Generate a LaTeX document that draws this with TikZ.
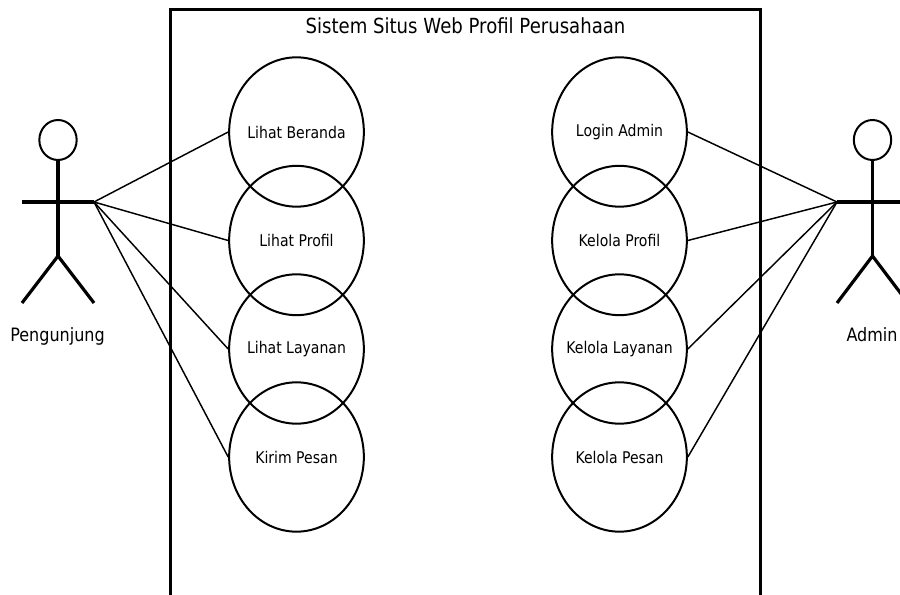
\documentclass[tikz,border=0pt]{standalone}
\usepackage{fontspec}
\setmainfont{DejaVu Sans}
\usetikzlibrary{shapes.geometric}
\newcommand{\ucname}[1]{\makebox[0pt][c]{#1}}
\tikzset{
 usecase/.style={draw=black,line width=1.5pt,ellipse,minimum width=101pt,minimum height=112pt,inner sep=0pt,font=\fontsize{12.1}{14}\selectfont\addfontfeature{FakeStretch=0.87}},
 limb/.style={draw=black,line width=2.4pt},
 conn/.style={draw=black,line width=1.1pt},
 lbl/.style={font=\fontsize{13.8}{16}\selectfont\addfontfeature{FakeStretch=0.87},inner sep=0pt,text=black},
 heading/.style={font=\fontsize{15.6}{18}\selectfont\addfontfeature{FakeStretch=0.87},inner sep=0pt,text=black},
 headcircle/.style={draw=black,line width=1.5pt,ellipse,minimum width=28pt,minimum height=30pt,inner sep=0pt}
}
\begin{document}
\begin{tikzpicture}[x=0.75pt,y=-0.75pt]
\useasboundingbox (0,0) rectangle (900,595);
\fill[white] (0,0) rectangle (900,595);
\draw[line width=1.6pt] (170.5,600) -- (170.5,9.5) -- (760.5,9.5) -- (760.5,600);
\node[heading] (title) at (465.5,25.5) {Sistem Situs Web Profil Perusahaan};
\node[usecase] (u1) at (296.5,132) {\ucname{Lihat Beranda}};
\node[usecase] (u2) at (296.5,240.5) {\ucname{Lihat Profil}};
\node[usecase] (u3) at (296.5,349) {\ucname{Lihat Layanan}};
\node[usecase] (u4) at (296.5,457) {\ucname{Kirim Pesan}};
\node[usecase] (a1) at (619.5,132) {\ucname{Login Admin}};
\node[usecase] (a2) at (619.5,240.5) {\ucname{Kelola Profil}};
\node[usecase] (a3) at (619.5,349) {\ucname{Kelola Layanan}};
\node[usecase] (a4) at (619.5,457) {\ucname{Kelola Pesan}};
% actors
\coordinate (pHand) at (94,202);
\coordinate (aHand) at (837,202);
\node[headcircle] (pHead) at (58,140) {};
\node[headcircle] (aHead) at (872.5,140) {};
\coordinate (pHip) at (58,256);
\coordinate (aHip) at (872.5,256);
\coordinate (pArmL) at (22,202);
\coordinate (aArmR) at (908,202);
\coordinate (pFootL) at (22,303);
\coordinate (pFootR) at (94,303);
\coordinate (aFootL) at (837,303);
\coordinate (aFootR) at (908,303);
\draw[limb] (pHead) -- (pHip);
\draw[limb] (pArmL) -- (pHand);
\draw[limb] (pFootL) -- (pHip) -- (pFootR);
\draw[limb] (aHead) -- (aHip);
\draw[limb] (aHand) -- (aArmR);
\draw[limb] (aFootL) -- (aHip) -- (aFootR);
\node[lbl] (pName) at (57.5,336.5) {Pengunjung};
\node[lbl] (aName) at (872,335) {Admin};
\foreach \n in {u1,u2,u3,u4}{\draw[conn] (pHand) -- (\n.west);}
\foreach \n in {a1,a2,a3,a4}{\draw[conn] (aHand) -- (\n.east);}
\end{tikzpicture}
\end{document}
